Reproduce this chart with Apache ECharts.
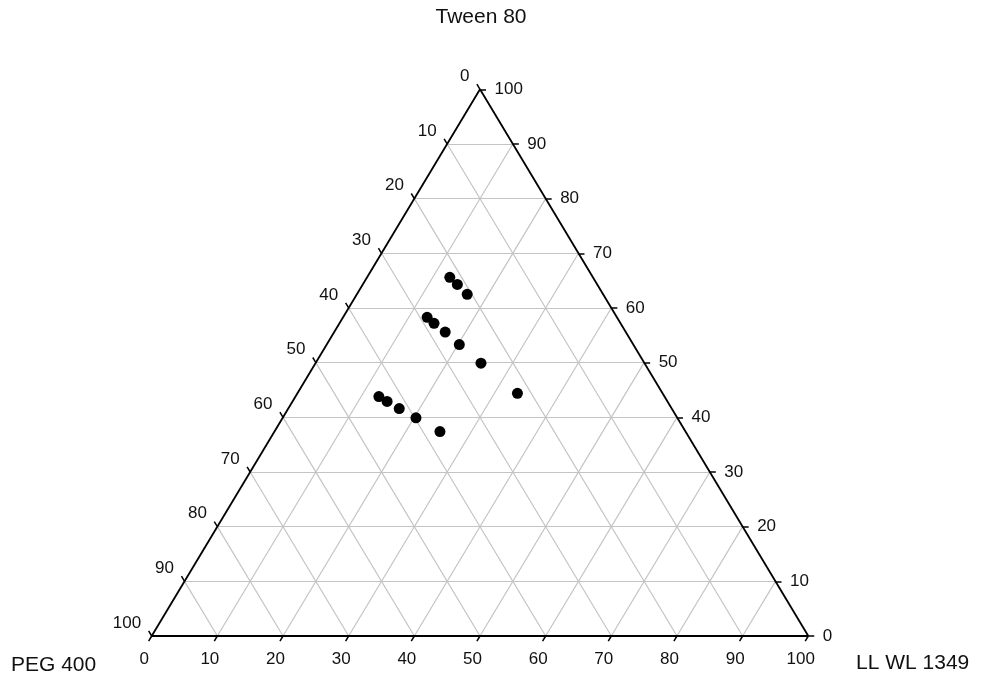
<!DOCTYPE html>
<html>
<head>
<meta charset="utf-8">
<script src="https://cdn.jsdelivr.net/npm/echarts@6/dist/echarts.min.js"></script>
<style>html,body{margin:0;padding:0;background:#fff}#c{width:981px;height:680px}</style>
</head>
<body>
<div id="c"></div>
<script>
// ---- data (percentages) ----
const axisTitles = ['Tween 80', 'PEG 400', 'LL WL 1349'];
const tickValues = [0, 10, 20, 30, 40, 50, 60, 70, 80, 90, 100];
const tween80 = [65.6, 64.3, 62.5, 58.3, 57.2, 55.6, 53.3, 49.9, 44.4, 43.8, 42.9, 41.6, 39.9, 37.4];
const llwl1349 = [12.6, 14.4, 16.8, 12.8, 14.4, 16.9, 20.2, 25.2, 33.5, 12.7, 14.4, 16.9, 20.3, 25.2];
const peg400 = [21.8, 21.3, 20.7, 28.9, 28.4, 27.5, 26.5, 24.9, 22.1, 43.5, 42.7, 41.5, 39.8, 37.4];

// ternary -> cartesian (x = LL + Tween/2, y = Tween)
function tern(p, l, t) {
  const s = p + l + t;
  l = l / s * 100; t = t / s * 100;
  return [l + t / 2, t];
}

const FONT = 'Liberation Sans, Arial, sans-serif';
const PXX = 6.566, PXY = 5.467; // px per data unit (for tick lengths)

const points = tween80.map((t, i) => tern(peg400[i], llwl1349[i], t));

const gridLines = [];
tickValues.forEach(k => {
  if (k === 0 || k === 100) return;
  gridLines.push({ coords: [tern(100 - k, 0, k), tern(0, 100 - k, k)] });      // const Tween
  gridLines.push({ coords: [tern(100 - k, k, 0), tern(0, k, 100 - k)] });      // const LL
  gridLines.push({ coords: [tern(k, 100 - k, 0), tern(k, 0, 100 - k)] });      // const PEG
});
const frame = [
  { coords: [tern(100, 0, 0), tern(0, 100, 0)] },
  { coords: [tern(0, 100, 0), tern(0, 0, 100)] },
  { coords: [tern(0, 0, 100), tern(100, 0, 0)] }
];
const tl = 6;
const ticks = [];
tickValues.forEach(k => {
  const b = tern(100 - k, k, 0);
  ticks.push({ coords: [b, [b[0] - 0.513 * tl / PXX, b[1] - 0.858 * tl / PXY]] });
  const r = tern(0, 100 - k, k);
  ticks.push({ coords: [r, [r[0] + tl / PXX, r[1]]] });
  const lft = tern(k, 0, 100 - k);
  ticks.push({ coords: [lft, [lft[0] - 0.513 * tl / PXX, lft[1] + 0.858 * tl / PXY]] });
});

const labelBase = { show: true, color: '#111', opacity: 1, textBorderWidth: 0, fontFamily: FONT, fontSize: 17, formatter: p => p.data[2] };
const bottomLbl = tickValues.map(k => tern(100 - k, k, 0).concat([k]));
const rightLbl = tickValues.map(k => tern(0, 100 - k, k).concat([k]));
const leftLbl = tickValues.map(k => tern(k, 0, 100 - k).concat([k]));

function lblSeries(data, label) {
  return {
    type: 'scatter', data: data, symbolSize: 1, clip: false, silent: true,
    itemStyle: { color: '#fff', opacity: 0 },
    label: Object.assign({}, labelBase, label), z: 5
  };
}

const chart = echarts.init(document.getElementById('c'), null, { renderer: 'canvas' });
chart.setOption({
  animation: false,
  backgroundColor: '#fff',
  grid: { left: 20.38, right: 41.38, top: 61.97, bottom: 16.66, containLabel: false },
  xAxis: { type: 'value', min: -20, max: 120, show: false },
  yAxis: { type: 'value', min: -5, max: 105, show: false },
  graphic: [
    { type: 'text', x: 481, y: 17, style: { text: axisTitles[0], font: '21px ' + FONT, fill: '#111', align: 'center', verticalAlign: 'middle' } },
    { type: 'text', x: 11, y: 665, style: { text: axisTitles[1], font: '21px ' + FONT, fill: '#111', align: 'left', verticalAlign: 'middle' } },
    { type: 'text', x: 856, y: 663, style: { text: axisTitles[2], font: '21px ' + FONT, fill: '#111', align: 'left', verticalAlign: 'middle' } }
  ],
  series: [
    { type: 'lines', coordinateSystem: 'cartesian2d', data: gridLines, silent: true, clip: false,
      lineStyle: { color: '#c4c4c4', width: 1.2, opacity: 1 }, z: 1 },
    { type: 'lines', coordinateSystem: 'cartesian2d', data: frame, silent: true, clip: false,
      lineStyle: { color: '#000', width: 1.8, opacity: 1 }, z: 2 },
    { type: 'lines', coordinateSystem: 'cartesian2d', data: ticks, silent: true, clip: false,
      lineStyle: { color: '#000', width: 1.5, opacity: 1 }, z: 2 },
    lblSeries(bottomLbl, { position: 'inside', align: 'center', verticalAlign: 'middle', offset: [-7.5, 23] }),
    lblSeries(rightLbl, { position: 'right', distance: 14, align: 'left', verticalAlign: 'middle' }),
    lblSeries(leftLbl, { position: 'left', distance: 10, align: 'right', verticalAlign: 'middle', offset: [0, -13] }),
    { type: 'scatter', data: points, symbol: 'circle', symbolSize: 11, clip: false,
      itemStyle: { color: '#000', opacity: 1 }, z: 10 }
  ]
});
</script>
</body>
</html>
